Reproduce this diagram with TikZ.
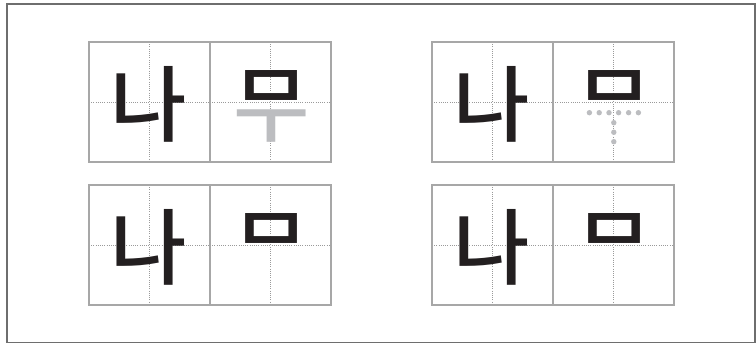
\documentclass[tikz,border=0pt]{standalone}
\usepackage{fontspec}
\newfontfamily\kr{Noto Sans CJK KR Medium}
\definecolor{ink}{HTML}{231F20}
\definecolor{boxline}{HTML}{A7A7A7}
\definecolor{guide}{HTML}{9A9A9A}
\definecolor{lightgray}{HTML}{BCBDC0}
\definecolor{framecol}{HTML}{6E6E6E}
\tikzset{
  cell/.style={draw=boxline, line width=1.4pt},
  divider/.style={draw=boxline, line width=2.4pt},
  guideline/.style={draw=guide, line width=0.6pt, dash pattern=on 1pt off 1.2pt},
  glyph/.style={inner sep=0pt, outer sep=0pt, anchor=base, font=\kr\fontsize{83}{83}\selectfont},
  dotmark/.style={circle, fill=lightgray, inner sep=0pt, minimum size=5.4pt},
}
\begin{document}
\begin{tikzpicture}[x=1pt,y=-1pt]
\useasboundingbox (0,0) rectangle (756,344);
\draw[draw=framecol, line width=1.5pt] (7,4) rectangle (755,342.5);
% groups: left x, top y
\foreach \gx/\gy/\n in {89/42/a, 432/42/b, 89/185/c, 432/185/d}{
  \coordinate (\n-tl) at (\gx,\gy);
  \draw[guideline] (\gx,\gy+60) -- (\gx+242,\gy+60);
  \draw[guideline] (\gx+60.5,\gy) -- (\gx+60.5,\gy+120);
  \draw[guideline] (\gx+181.5,\gy) -- (\gx+181.5,\gy+120);
  \draw[cell] (\gx,\gy) rectangle (\gx+242,\gy+120);
  \draw[divider] (\gx+121,\gy) -- (\gx+121,\gy+120);
  \node[glyph, text=ink] (\n-na) at (\gx+59.5,\gy+94) {나};
}
% group a: 무 with gray ㅜ
\node[glyph, text=lightgray] (a-mu) at (89+182.5,42+94) {무};
\begin{scope}
  \clip (89+122,42) rectangle (89+241,42+64);
  \node[glyph, text=ink] (a-mu2) at (89+182.5,42+94) {무};
\end{scope}
% group b: ㅁ with dotted ㅜ
\begin{scope}
  \clip (432+122,42) rectangle (432+241,42+64);
  \node[glyph, text=ink] (b-mu) at (432+182.5,42+94) {무};
\end{scope}
\foreach \i/\xx in {1/589.4,2/599.2,3/609.0,4/618.6,5/628.6,6/638.4}{
  \node[dotmark] (h\i) at (\xx,112.7) {};
}
\foreach \i/\yy in {1/122.7,2/132.3,3/141.7}{
  \node[dotmark] (v\i) at (613.8,\yy) {};
}
% group c and d: ㅁ only
\begin{scope}
  \clip (89+122,185) rectangle (89+241,185+64);
  \node[glyph, text=ink] (c-mu) at (89+182.5,185+94) {무};
\end{scope}
\begin{scope}
  \clip (432+122,185) rectangle (432+241,185+64);
  \node[glyph, text=ink] (d-mu) at (432+182.5,185+94) {무};
\end{scope}
\end{tikzpicture}
\end{document}
